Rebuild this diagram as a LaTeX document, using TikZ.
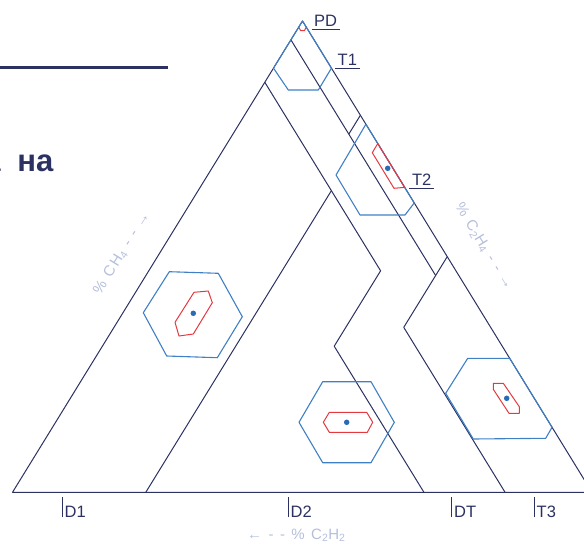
\documentclass[tikz,border=0pt]{standalone}
\usepackage{fontspec}
\setmainfont{Liberation Sans}
\newfontfamily\axisfont[LetterSpace=15]{Liberation Sans}
\usetikzlibrary{calc}
\definecolor{navy}{HTML}{2B3262}
\definecolor{hexblue}{HTML}{3F7FC4}
\definecolor{hexred}{HTML}{E5393F}
\definecolor{axisgrey}{HTML}{B4BFDB}
\definecolor{dotblue}{HTML}{2A6CB4}

\begin{document}
\begin{tikzpicture}[x=1pt,y=-1pt,
  zone/.style={draw=navy,line width=1pt,line join=round},
  hex/.style={draw=hexblue,line width=1.1pt,line join=round},
  core/.style={draw=hexred,line width=1pt,line join=round},
  dot/.style={fill=dotblue,circle,inner sep=0pt,minimum size=5.5pt},
  tag/.style={text=navy,font=\fontsize{16.5}{18}\selectfont,inner xsep=2.5pt,inner ysep=2.5pt},
  tick/.style={text=navy,font=\fontsize{16.5}{18}\selectfont,inner xsep=2.2pt,inner ysep=0pt},
  axis/.style={text=axisgrey,font=\axisfont\fontsize{15}{17}\selectfont,inner sep=0pt}]
\useasboundingbox (0,0) rectangle (584,544);
\clip (0,0) rectangle (584,544);
\coordinate (L) at (12.5,492.3);
\coordinate (R) at (592,492.3);
\coordinate (T) at (302.5,21);
\draw[navy,line width=3.5pt] (0,67.7) -- (168,67.7);
\node[text=navy,font=\bfseries\fontsize{31}{34}\selectfont,anchor=base east,inner sep=0pt] (title) at (53.5,171.5) {а\kern8pt\ на};
\draw[zone] (L) -- (R) -- (T) -- cycle;
\draw[zone] (barycentric cs:L=.04,R=0,T=.96) -- (barycentric cs:L=.04,R=.50,T=.46);
\draw[zone] (barycentric cs:L=0,R=.20,T=.80) -- (barycentric cs:L=.04,R=.20,T=.76);
\draw[zone] (barycentric cs:L=0,R=.50,T=.50) -- (barycentric cs:L=.15,R=.50,T=.35) -- (barycentric cs:L=.15,R=.85,T=0);
\draw[zone] (barycentric cs:L=.13,R=0,T=.87) -- (barycentric cs:L=.13,R=.40,T=.47) -- (barycentric cs:L=.29,R=.40,T=.31) -- (barycentric cs:L=.29,R=.71,T=0);
\draw[zone] (barycentric cs:L=.13,R=.23,T=.64) -- (barycentric cs:L=.77,R=.23,T=0);
\draw[hex] (T) -- ($(T)!0.1!(L)$) -- (288.3,90) -- (318.3,90) -- ($(T)!0.1!(R)$) -- cycle;
\draw[core] ($(T)!0.013!(L)$) -- (300.5,30.5) -- (304.5,30.5) -- ($(T)!0.013!(R)$);
\draw[hex] ($(T)!0.219!(R)$) -- (336,175) -- (360,215) -- (405,215) -- ($(T)!0.386!(R)$) -- cycle;
\draw[core] ($(T)!0.26!(R)$) -- (372.3,152.7) -- (394,188.3) -- ($(T)!0.353!(R)$) -- cycle;
\node[dot] (t2dot) at (387.7,168.3) {};
\draw[hex] (169.3,271.7) -- (218.3,273.3) -- (242.3,316.7) -- (217.3,357.7) -- (166.7,356) -- (143.3,312.7) -- cycle;
\draw[core] (194,292.3) -- (208.3,291) -- (212.3,302.7) -- (193.3,334) -- (179,336) -- (175,322.3) -- cycle;
\node[dot] (d1dot) at (193.3,313.3) {};
\draw[hex] (322.7,381.7) -- (371,381.7) -- (394.3,422.3) -- (371,462.7) -- (322.7,462.7) -- (299,422.3) -- cycle;
\draw[core] (329.3,412.3) -- (366.7,412.3) -- (372.7,422.3) -- (367.3,432.3) -- (329.3,432.3) -- (323.3,422.3) -- cycle;
\node[dot] (d2dot) at (346.7,422.3) {};
\draw[hex] (467.7,358.3) -- ($(T)!0.7157!(R)$) -- ($(T)!0.862!(R)$) -- (545.7,438.3) -- (473.3,439) -- (445.7,393.3) -- cycle;
\draw[core] (493.3,383.3) -- (503.3,383.3) -- (519.3,406.7) -- (519.3,413.3) -- (509,413.3) -- (493.3,389.3) -- cycle;
\node[dot] (t3dot) at (506.7,398.3) {};
\node[tag,anchor=south west] (pd) at (311.5,29.5) {PD};
\node[tag,anchor=south west] (t1) at (335,68.3) {T1};
\node[tag,anchor=south west] (t2) at (409.3,188.3) {T2};
\foreach \n in {pd,t1,t2} \draw[navy,line width=0.9pt] (\n.south west) -- (\n.south east);
\node[tick,anchor=base west] (d1) at (62.3,517) {D1};
\node[tick,anchor=base west] (d2) at (288.3,517) {D2};
\node[tick,anchor=base west] (dt) at (451.7,517) {DT};
\node[tick,anchor=base west] (t3) at (534.3,517) {T3};
\foreach \n in {d1,d2,dt,t3} \draw[navy,line width=0.9pt] (\n.base west) -- ++(0,-20);
\node[axis,rotate=58.4] (ch4) at (121.7,253.3) {\% CH\textsubscript{4} - - →};
\node[axis,rotate=-58.4] (c2h4) at (484,246.7) {\% C\textsubscript{2}H\textsubscript{4} - - →};
\node[axis] (c2h2) at (296.4,535.5) {← - - \% C\textsubscript{2}H\textsubscript{2}};
\end{tikzpicture}
\end{document}
